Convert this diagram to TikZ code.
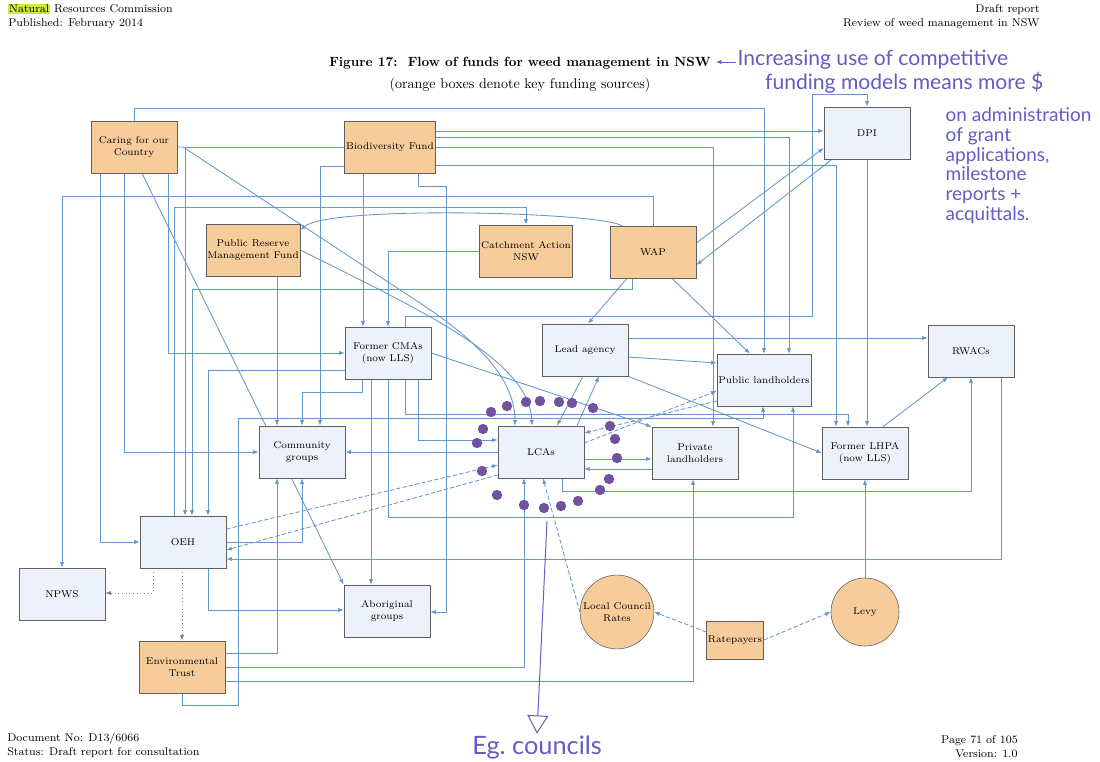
\documentclass[tikz,border=0pt]{standalone}
\usepackage{fontspec}
\usetikzlibrary{arrows.meta,backgrounds}
\newfontfamily\handfont{Lato}
\setlength{\fboxsep}{0.6pt}
\definecolor{fundorange}{RGB}{247,204,155}
\definecolor{agencyblue}{RGB}{236,241,250}
\definecolor{boxgray}{RGB}{95,95,95}
\definecolor{flowblue}{RGB}{98,152,205}
\definecolor{inkviolet}{RGB}{100,92,196}
\definecolor{dotpurple}{RGB}{112,82,158}
\definecolor{hilite}{RGB}{205,232,70}

\begin{document}
\begin{tikzpicture}[x=0.025cm, y=-0.025cm, >={Latex[length=4pt,width=3pt]},
    every node/.style={font=\fontsize{7}{8.5}\selectfont},
    agency/.style={draw=boxgray, fill=agencyblue, minimum width=2.15cm, minimum height=1.3cm, align=center, inner sep=1pt},
    fund/.style={agency, fill=fundorange},
    rates/.style={circle, draw=boxgray, fill=fundorange, minimum size=1.7cm, align=center, inner sep=1pt},
    flow/.style={->, draw=flowblue, line width=0.6pt},
    dashflow/.style={flow, dash pattern=on 3pt off 1.6pt},
    dotflow/.style={flow, draw=gray, dotted},
    page/.style={font=\fontsize{8}{10}\selectfont, align=left, inner sep=0pt},
    ink/.style={text=inkviolet, font=\handfont\fontsize{15}{17}\selectfont, align=left, inner sep=1pt},
    inkline/.style={draw=inkviolet, line width=0.7pt}]
    \useasboundingbox (0,0) rectangle (1100,762);

    % page header and footer
    \node [page, anchor=north west] (hdl) at (8,4) {\colorbox{hilite}{Natural} Resources Commission\\Published: February 2014};
    \node [page, anchor=north east, align=right] (hdr) at (1040,4) {Draft report\\Review of weed management in NSW};
    \node [page, anchor=south west] (ftl) at (7,758) {Document No: D13/6066\\Status: Draft report for consultation};
    \node [page, anchor=south east, align=right] (ftr) at (1018,758) {Page 71 of 105\\Version: 1.0};
    \node [font=\fontsize{9.5}{11}\selectfont\bfseries] (title) at (520,63) {Figure 17:\ \ Flow of funds for weed management in NSW};
    \node [font=\fontsize{10}{12}\selectfont] (subtitle) at (520,85) {(orange boxes denote key funding sources)};

    % boxes
    \node [fund] (0) at (134,147) {Caring for our\\Country};
    \node [fund] (1) at (390,147) {Biodiversity Fund};
    \node [agency] (2) at (867,133) {DPI};
    \node [fund] (3) at (253,250) {Public Reserve\\Management Fund};
    \node [fund] (4) at (526,251) {Catchment Action\\NSW};
    \node [fund] (5) at (653,252) {WAP};
    \node [agency] (6) at (388,353) {Former CMAs\\(now LLS)};
    \node [agency] (7) at (585,350) {Lead agency};
    \node [agency] (8) at (764,380) {Public landholders};
    \node [agency] (9) at (971,351) {RWACs};
    \node [agency] (10) at (302,452) {Community\\groups};
    \node [agency] (11) at (541,452) {LCAs};
    \node [agency] (12) at (695,453) {Private\\landholders};
    \node [agency] (13) at (865,453) {Former LHPA\\(now LLS)};
    \node [agency] (14) at (183,542) {OEH};
    \node [agency] (15) at (62,594) {NPWS};
    \node [agency] (16) at (387,611) {Aboriginal\\groups};
    \node [fund] (17) at (182,667) {Environmental\\Trust};
    \node [rates] (18) at (617,612) {Local Council\\Rates};
    \node [fund, minimum width=1.4cm, minimum height=0.95cm] (19) at (735,640) {Ratepayers};
    \node [rates] (20) at (865,612) {Levy};

    \begin{scope}[on background layer]
    \fill [white] (0,0) rectangle (1100,762);
    % flows of funds
    \draw [flow] (0.north) -- (134,108) -| (8.north);
    \draw [flow] (1.east |- 0,131) -- (2.west |- 0,131);
    \draw [flow] (1.east |- 0,137) -| (8.north -| 789,0);
    \draw [flow] (1.east |- 0,147) -| (12.north -| 713,0);
    \draw [flow] (1.east |- 0,165) -| (13.north -| 836,0);
    \draw [flow] (2.south) -- (2.south |- 13.north);
    \draw [flow] (5.east |- 0,243) -- (2.west |- 0,148);
    \draw [flow] (2.south -| 832,0) -- (5.east |- 0,265);
    \draw [flow] (6.north -| 405,0) -- (405,316) -- (812,316) -- (812,94) -| (2.north);
    \draw [flow] (0.south -| 168,0) |- (6.west);
    \draw [flow] (0.south -| 124,0) |- (10.west);
    \draw [flow] (0.south -| 100,0) |- (14.west);
    \draw [flow] (0.south -| 142,0) -- (16.north west);
    \draw [flow] (0.east) -- (183,147) -- (420,303) .. controls (470,336) and (515,375) .. (11.north -| 515,0);
    \draw [flow] (1.west) -- (185,147) -- (14.north -| 185,0);
    \draw [flow] (1.west |- 0,166) -| (10.north -| 320,0);
    \draw [flow] (1.south -| 363,0) -- (6.north -| 363,0);
    \draw [flow] (1.south -| 418,0) -- (418,186) -| (446,612) -- (16.east |- 0,612);
    \draw [flow] (4.west) -| (6.north -| 388,0);
    \draw [flow] (3.south -| 277,0) -- (10.north -| 277,0);
    \draw [flow] (3.east) .. controls (420,310) and (530,360) .. (11.north -| 532,0);
    \draw [flow] (5.north -| 622,0) .. controls (600,212) and (330,205) .. (3.east |- 0,230);
    \draw [flow] (5.north) |- (62,196) -- (15.north);
    \draw [flow] (5.south -| 632,0) |- (192,289) -- (14.north -| 192,0);
    \draw [flow] (14.north -| 174,0) |- (526,207) -- (4.north);
    \draw [flow] (5.south -| 627,0) -- (7.north -| 588,0);
    \draw [flow] (5.south -| 672,0) -- (8.north -| 750,0);
    \draw [flow] (7.east |- 0,338) -- (9.west |- 0,338);
    \draw [flow] (7.east |- 0,357) -- (8.west |- 0,363);
    \draw [flow] (7.south east) -- (13.west);
    \draw [flow] (7.south -| 583,0) -- (11.north -| 557,0);
    \draw [flow] (11.north -| 577,0) -- (7.south -| 599,0);
    \draw [flow] (6.south -| 362,0) |- (302,392) -- (10.north);
    \draw [flow] (6.south -| 371,0) -- (16.north -| 371,0);
    \draw [flow] (6.south) |- (793,517) -- (8.south -| 793,0);
    \draw [flow] (6.south -| 405,0) |- (848,414) -- (13.north -| 848,0);
    \draw [flow] (6.south -| 418,0) |- (11.west |- 0,440);
    \draw [flow] (6.west |- 0,370) -| (14.north -| 208,0);
    \draw [flow] (6.east) -- (12.north west);
    \draw [flow] (11.west) -- (10.east);
    \draw [dashflow] (14.east |- 0,529) -- (11.west |- 0,465);
    \draw [dashflow] (11.west |- 0,475) -- (14.east |- 0,550);
    \draw [flow] (9.south -| 1001,0) |- (14.east |- 0,559);
    \draw [flow] (11.east |- 0,459) -- (12.west |- 0,459);
    \draw [flow] (12.west |- 0,469) -- (11.east |- 0,469);
    \draw [dashflow] (11.east |- 0,443) -- (8.west |- 0,391);
    \draw [dashflow] (8.west |- 0,401) -- (11.east |- 0,433);
    \draw [flow] (11.south -| 562,0) |- (971,491) -- (9.south);
    \draw [flow] (17.east) -| (11.south -| 524,0);
    \draw [dashflow] (18.west) -- (11.south -| 543,0);
    \draw [flow] (17.east |- 0,653) -| (10.south -| 277,0);
    \draw [flow] (14.east) -| (10.south);
    \draw [flow] (17.south) |- (238,705) |- (763,418) -- (8.south -| 763,0);
    \draw [flow] (17.east |- 0,681) -| (12.south -| 693,0);
    \draw [flow] (14.south -| 208,0) |- (16.west |- 0,610);
    \draw [dotflow] (14.south -| 182,0) -- (17.north);
    \draw [dotflow] (14.south -| 153,0) |- (15.east |- 0,593);
    \draw [dashflow] (19.west |- 0,632) -- (18.east);
    \draw [dashflow] (19.east) -- (20.west);
    \draw [flow] (20.north) -- (13.south);
    \draw [flow] (13.north -| 883,0) -- (9.south -| 948,0);
    \end{scope}

    % handwritten notes
    \fill [dotpurple] (507,406) circle [radius=0.13cm] (526,402) circle [radius=0.13cm]
      (540,401) circle [radius=0.13cm] (559,402) circle [radius=0.13cm]
      (572,403) circle [radius=0.13cm] (593,408) circle [radius=0.13cm]
      (491,412) circle [radius=0.13cm] (483,429) circle [radius=0.13cm]
      (477,443) circle [radius=0.13cm] (610,426) circle [radius=0.13cm]
      (615,439) circle [radius=0.13cm] (617,458) circle [radius=0.13cm]
      (482,471) circle [radius=0.13cm] (609,479) circle [radius=0.13cm]
      (600,490) circle [radius=0.13cm] (497,495) circle [radius=0.13cm]
      (524,505) circle [radius=0.13cm] (544,508) circle [radius=0.13cm]
      (561,506) circle [radius=0.13cm] (578,501) circle [radius=0.13cm];
    \node [ink, anchor=west] (note) at (736,72) {Increasing use of competitive\\\hspace*{1.3em}funding models means more \$};
    \node [ink, anchor=north west, font=\handfont\fontsize{13.5}{14}\selectfont] (note2) at (944,106) {on administration\\of grant\\applications,\\milestone\\reports +\\acquittals.};
    \draw [inkline, ->] (note.west |- 0,62) -- (title.east |- 0,62);
    \coordinate (egstart) at (547,521);
    \node [ink, font=\handfont\fontsize{18}{20}\selectfont] (eg) at (537,747) {Eg.~councils};
    \draw [inkline, -{Triangle[open,length=13pt,width=15pt]}] (egstart) -- (eg.north);
\end{tikzpicture}
\end{document}
